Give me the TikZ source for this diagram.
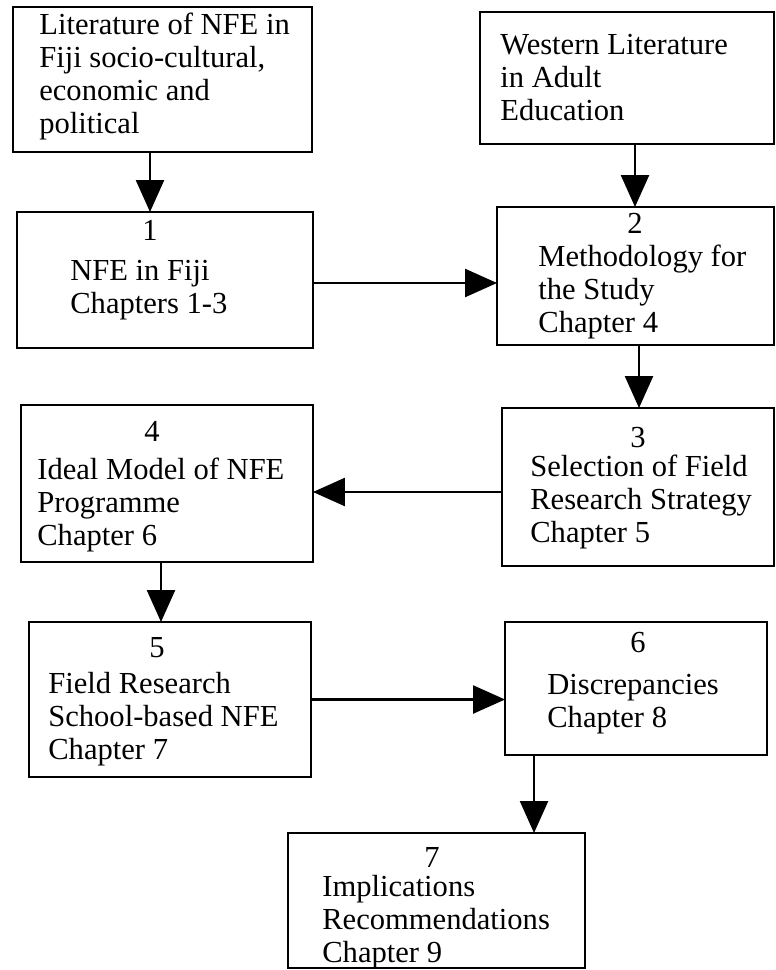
\documentclass[tikz,border=0pt]{standalone}
\usepackage{fontspec}
\setmainfont{Liberation Serif}
\usetikzlibrary{arrows.meta,positioning}

\newcommand{\boxfont}{\fontsize{17.4pt}{18.6pt}\selectfont}

\begin{document}
\begin{tikzpicture} [
        x=0.02cm, y=-0.02cm,
        box/.style={draw=black, line width=1.5pt, inner sep=0pt, outer sep=0pt},
        num/.style={anchor=base, inner sep=0pt, font=\boxfont},
        txt/.style={anchor=base west, align=left, inner sep=0pt, font=\boxfont},
        flow/.style={-{Triangle[length=0.64cm, width=0.56cm]}, line width=1.4pt}
    ]
    \useasboundingbox (0,0) rectangle (776,970);

    % boxes
    \node[box, minimum width=5.98cm, minimum height=2.90cm] (lit)  at (162.5,79.5) {};
    \node[box, minimum width=5.88cm, minimum height=2.64cm] (west) at (627,78)     {};
    \node[box, minimum width=5.92cm, minimum height=2.72cm] (c1)   at (165,280)    {};
    \node[box, minimum width=5.54cm, minimum height=2.76cm] (c2)   at (635.5,276)  {};
    \node[box, minimum width=5.44cm, minimum height=3.16cm] (c3)   at (638,487)    {};
    \node[box, minimum width=5.84cm, minimum height=3.14cm] (c4)   at (167,483.5)  {};
    \node[box, minimum width=5.64cm, minimum height=3.10cm] (c5)   at (170,699.5)  {};
    \node[box, minimum width=5.24cm, minimum height=2.66cm] (c6)   at (636,688.5)  {};
    \node[box, minimum width=5.94cm, minimum height=2.70cm] (c7)   at (436.5,900.5) {};

    % texts (base = last line)
    \node[txt] (lit-txt)  at (39,133)  {Literature of NFE in\\Fiji socio-cultural,\\economic and\\political};
    \node[txt] (west-txt) at (500,120) {Western Literature\\in Adult\\Education};

    \node[num] (c1-num) at (150,240)   {1};
    \node[txt] (c1-txt) at (70,313)    {NFE in Fiji\\Chapters 1-3};

    \node[num] (c2-num) at (635,233)   {2};
    \node[txt] (c2-txt) at (538,332)   {Methodology for\\the Study\\Chapter 4};

    \node[num] (c3-num) at (638,447)   {3};
    \node[txt] (c3-txt) at (530,542)   {Selection of Field\\Research Strategy\\Chapter 5};

    \node[num] (c4-num) at (152,441)   {4};
    \node[txt] (c4-txt) at (37,545)    {Ideal Model of NFE\\Programme\\Chapter 6};

    \node[num] (c5-num) at (157,657)   {5};
    \node[txt] (c5-txt) at (48,759)    {Field Research\\School-based NFE\\Chapter 7};

    \node[num] (c6-num) at (638,652)   {6};
    \node[txt] (c6-txt) at (547,727)   {Discrepancies\\Chapter 8};

    \node[num] (c7-num) at (432,867)   {7};
    \node[txt] (c7-txt) at (322,962)   {Implications\\Recommendations\\Chapter 9};

    % arrows
    \draw[flow] ([xshift=-0.25cm]lit.south)  -- ([xshift=-0.25cm]lit.south |- c1.north);
    \draw[flow] ([xshift=0.16cm]west.south)  -- ([xshift=0.16cm]west.south |- c2.north);
    \draw[flow] ([yshift=-0.06cm]c1.east)    -- ([yshift=-0.06cm]c1.east -| c2.west);
    \draw[flow] ([xshift=0.07cm]c2.south)    -- ([xshift=0.07cm]c2.south |- c3.north);
    \draw[flow] ([yshift=-0.1cm]c3.west)     -- ([yshift=-0.1cm]c3.west -| c4.east);
    \draw[flow] ([xshift=-0.12cm]c4.south)   -- ([xshift=-0.12cm]c4.south |- c5.north);
    \draw[flow] (c5.east)                    -- (c5.east -| c6.west);
    \draw[flow] ([xshift=-2.04cm]c6.south)   -- ([xshift=-2.04cm]c6.south |- c7.north);
\end{tikzpicture}
\end{document}
